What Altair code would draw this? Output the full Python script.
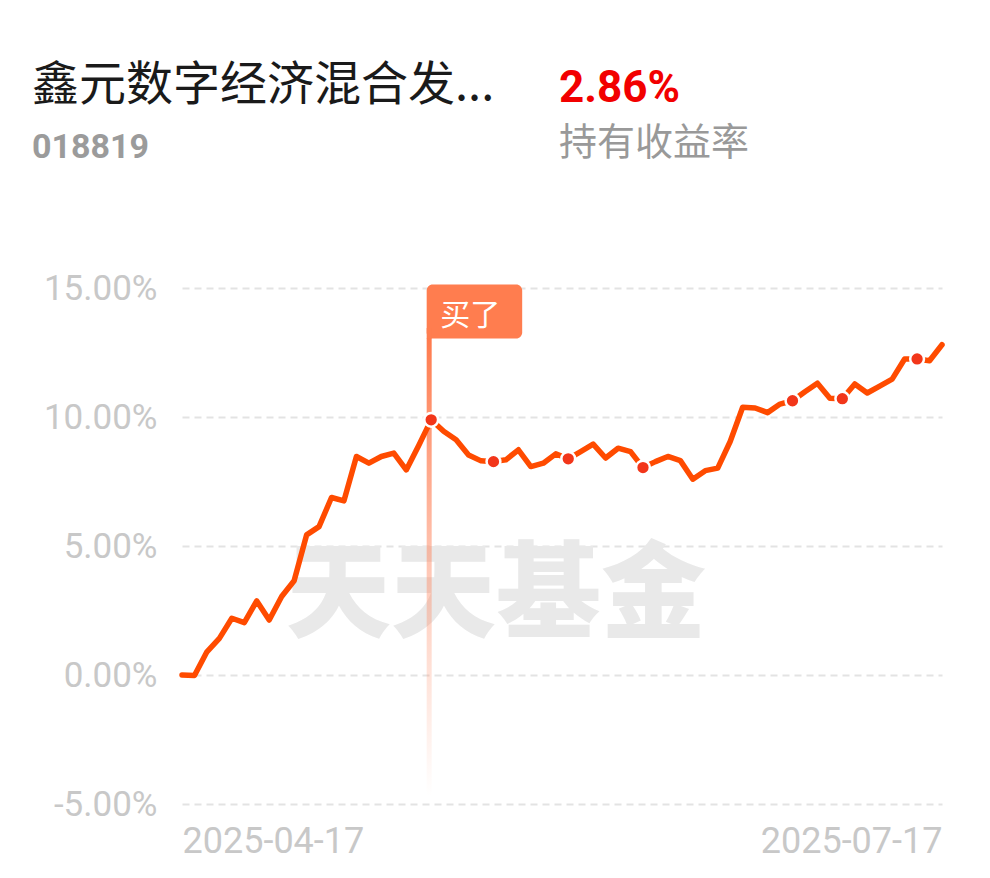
import altair as alt
import pandas as pd

# ---- data ----
returns = [
    0.00, -0.02, 0.90, 1.42, 2.20, 2.03, 2.87, 2.13, 3.04, 3.65,
    5.43, 5.75, 6.88, 6.75, 8.47, 8.21, 8.47, 8.60, 7.95, 8.90,
    9.89, 9.45, 9.12, 8.53, 8.30, 8.27, 8.34, 8.73, 8.08, 8.21,
    8.57, 8.38, 8.66, 8.95, 8.41, 8.79, 8.66, 8.04, 8.27, 8.47,
    8.31, 7.59, 7.92, 8.02, 9.05, 10.38, 10.35, 10.17, 10.50, 10.63,
    10.98, 11.31, 10.73, 10.71, 11.28, 10.93, 11.20, 11.47, 12.25, 12.25,
    12.18, 12.80,
]
dot_idx = [20, 25, 31, 37, 49, 53, 59]
buy_idx = 20
buy_label = "买了"
x_tick_idx = [0, len(returns) - 1]
x_tick_labels = ["2025-04-17", "2025-07-17"]
y_ticks = [-5, 0, 5, 10, 15]

fund_name = "鑫元数字经济混合发..."
fund_code = "018819"
hold_return = "2.86%"
hold_label = "持有收益率"
watermark = "天天基金"

# ---- tables ----
df = pd.DataFrame({"idx": list(range(len(returns))), "ret": returns})
dots = df[df["idx"].isin(dot_idx)]
buy_df = pd.DataFrame({"idx": [buy_idx], "ret": [y_ticks[-1]], "bottom": [-4.68]})
one = pd.DataFrame({"a": [0]})

x_scale = alt.Scale(domain=[0, len(returns) - 1], nice=False, zero=False)
y_scale = alt.Scale(domain=[y_ticks[0], y_ticks[-1]], nice=False, zero=False)

label_map = " : ".join(
    f"datum.value == {v} ? '{t}'" for v, t in zip(x_tick_idx, x_tick_labels)
) + " : ''"

x_axis = alt.Axis(
    values=x_tick_idx, labelExpr=label_map, labelFlush=True, domain=False,
    ticks=False, tickSize=0, grid=False, labelFont="Roboto", labelFontSize=36,
    labelColor="#c8c8c8", labelPadding=48, labelBaseline="alphabetic",
    labelLimit=400, labelOverlap=False, title=None,
)
y_axis = alt.Axis(
    values=y_ticks,
    labelExpr="(datum.value < 0 ? '-' : '') + format(abs(datum.value), '.2f') + '%'",
    domain=False, ticks=False, tickSize=0, grid=True, gridColor="#e3e3e3",
    gridDash=[7, 5], gridWidth=2, labelFont="Roboto", labelFontSize=35,
    labelColor="#c8c8c8", labelPadding=25, labelLimit=400, title=None,
)

X = alt.X("idx:Q", scale=x_scale, axis=x_axis)
Y = alt.Y("ret:Q", scale=y_scale, axis=y_axis)

wm = alt.Chart(one).mark_text(
    text=watermark, font="Noto Sans CJK SC", fontSize=105, fontWeight=900,
    color="#e9e9e9", align="center", baseline="alphabetic",
).encode(x=alt.value(314), y=alt.value(341))

gradient = alt.Gradient(
    gradient="linear",
    stops=[
        alt.GradientStop(color="rgba(255,122,76,1)", offset=0),
        alt.GradientStop(color="rgba(255,130,90,0.45)", offset=0.5),
        alt.GradientStop(color="rgba(255,140,100,0)", offset=1),
    ],
    x1=0, x2=0, y1=0, y2=1,
)

pole = alt.Chart(buy_df).mark_rect(
    xOffset=-4.5, x2Offset=0.5, yOffset=50, fill=gradient,
).encode(x=X, x2="idx:Q", y=Y, y2="bottom:Q")

line = alt.Chart(df).mark_line(
    color="#ff4b00", strokeWidth=5.5, strokeJoin="round", strokeCap="round",
).encode(x=X, y=Y)

flag = alt.Chart(buy_df).mark_rect(
    xOffset=-4.5, x2Offset=91, yOffset=-3.5, y2Offset=50.5,
    cornerRadius=6, color="#ff7d4f",
).encode(x=X, x2="idx:Q", y=Y, y2="ret:Q")

flag_pole_top = alt.Chart(buy_df).mark_rect(
    xOffset=-4.5, x2Offset=0.5, yOffset=40, y2Offset=50.5, color="#ff7d4f",
).encode(x=X, x2="idx:Q", y=Y, y2="ret:Q")

flag_text = alt.Chart(buy_df).mark_text(
    text=buy_label, font="Noto Sans CJK SC", fontSize=30, color="white",
    align="center", baseline="alphabetic", dx=39, dy=37,
).encode(x=X, y=Y)

pts = alt.Chart(dots).mark_circle(
    size=190, color="#f2361a", stroke="white", strokeWidth=2.5, opacity=1,
).encode(x=X, y=Y)

title = alt.Chart(one).mark_text(
    text=fund_name, font="Noto Sans CJK SC", fontSize=47, color="#1a1a1a",
    align="left", baseline="alphabetic",
).encode(x=alt.value(-150), y=alt.value(-188))

code = alt.Chart(one).mark_text(
    text=fund_code, font="Roboto", fontWeight="bold", fontSize=34, color="#9b9b9b",
    align="left", baseline="alphabetic",
).encode(x=alt.value(-150), y=alt.value(-130))

ret_txt = alt.Chart(one).mark_text(
    text=hold_return, font="Roboto", fontWeight="bold", fontSize=44, color="#f20000",
    align="left", baseline="alphabetic",
).encode(x=alt.value(377), y=alt.value(-186))

ret_lbl = alt.Chart(one).mark_text(
    text=hold_label, font="Noto Sans CJK SC", fontSize=38, color="#999999",
    align="left", baseline="alphabetic",
).encode(x=alt.value(377), y=alt.value(-133))

chart = alt.layer(
    wm, pole, line, flag, flag_pole_top, flag_text, pts, title, code, ret_txt, ret_lbl
).properties(
    width=760, height=516,
    autosize=alt.AutoSizeParams(type="none"),
    padding={"left": 174, "top": 280, "right": 30, "bottom": 60},
    background="white",
).configure_view(stroke=None)

chart.save("out.html", embed_options={"renderer": "svg", "actions": False})
